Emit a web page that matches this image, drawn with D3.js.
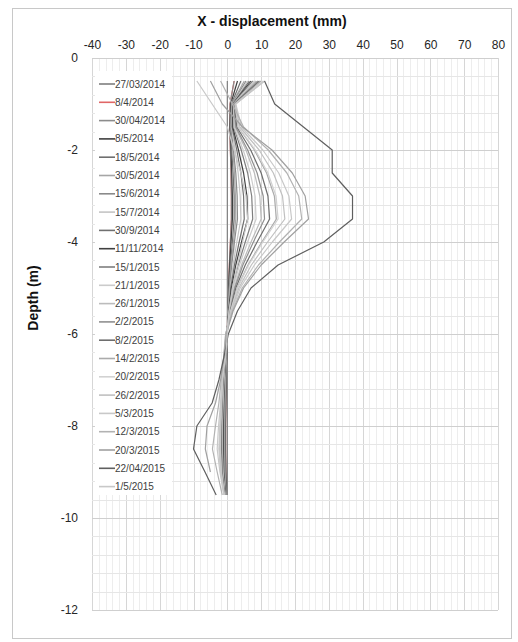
<!DOCTYPE html>
<html>
<head>
<meta charset="utf-8">
<script src="https://cdn.jsdelivr.net/npm/d3@7"></script>
<style>
  body { margin: 0; background: #fff; }
  svg { display: block; font-family: "Liberation Sans", Arial, sans-serif; }
  .tick text { fill: #262626; font-size: 12px; }
  .title { font-weight: bold; font-size: 14px; fill: #111; }
  .legend-label { font-size: 10px; fill: #404040; }
</style>
</head>
<body>
<svg id="chart" width="518" height="642" viewBox="0 0 518 642"></svg>
<script>
// reading dates (legend order)
const dates = ["27/03/2014", "8/4/2014", "30/04/2014", "8/5/2014", "18/5/2014", "30/5/2014",
    "15/6/2014", "15/7/2014", "30/9/2014", "11/11/2014", "15/1/2015", "21/1/2015", "26/1/2015",
    "2/2/2015", "8/2/2015", "14/2/2015", "20/2/2015", "26/2/2015", "5/3/2015", "12/3/2015",
    "20/3/2015", "22/04/2015", "1/5/2015"];

// depth of each reading (m)
const depths = [-0.5, -1, -1.5, -2, -2.5, -3, -3.5, -4, -4.5, -5, -5.5, -6, -6.5, -7, -7.5, -8, -8.5, -9, -9.5];

// displacement (mm) per date, one value per depth
const readings = [
    [0, 0, 0, 0, 0, 0, 0, 0, 0, 0, 0, 0, 0, 0, 0, 0, 0, 0, 0],
    [2, 0.8, 0.7, 0.9, 1.1, 1.2, 1.2, 0.9, 0.6, 0.3, 0.1, 0, -0.2, -0.3, -0.4, -0.5, -0.5, -0.4, -0.2],
    [2, 0.8, 0.7, 0.9, 1.1, 1.2, 1.2, 0.9, 0.6, 0.3, 0.1, 0, -0.2, -0.3, -0.4, -0.5, -0.5, -0.4, -0.2],
    [3, 1, 0.8, 1.1, 1.3, 1.5, 1.5, 1.1, 0.7, 0.4, 0.2, 0, -0.2, -0.4, -0.5, -0.6, -0.6, -0.5, -0.3],
    [4, 1.2, 0.9, 1.3, 1.7, 2, 2, 1.5, 0.9, 0.5, 0.2, 0, -0.3, -0.5, -0.6, -0.7, -0.7, -0.6, -0.3],
    [5, 1.3, 1, 1.6, 2.1, 2.4, 2.5, 1.8, 1.1, 0.6, 0.2, 0, -0.3, -0.5, -0.7, -0.8, -0.8, -0.7, -0.4],
    [5.5, 1.4, 1.1, 1.8, 2.5, 2.9, 3, 2.1, 1.3, 0.7, 0.2, 0, -0.4, -0.6, -0.8, -0.9, -0.9, -0.8, -0.4],
    [6, 1.5, 1.2, 2.3, 3.2, 3.8, 4, 2.8, 1.7, 0.8, 0.3, 0, -0.4, -0.7, -0.9, -1, -1, -0.9, -0.5],
    [6.5, 1.6, 1.4, 2.8, 4, 4.8, 5, 3.5, 2.1, 1, 0.4, -0.1, -0.5, -0.8, -1, -1.1, -1.1, -1, -0.5],
    [7, 1.6, 1.6, 3.3, 4.8, 5.8, 6, 4.2, 2.5, 1.2, 0.4, -0.1, -0.5, -0.9, -1.1, -1.2, -1.2, -1.1, -0.6],
    [7.5, 1.7, 1.9, 4.1, 6, 7.2, 7.5, 5.3, 3.2, 1.5, 0.5, -0.2, -0.6, -1, -1.2, -1.4, -1.4, -1.2, -0.6],
    [8, 1.8, 2, 4.7, 6.8, 8.2, 8.5, 6, 3.6, 1.7, 0.6, -0.2, -0.6, -1, -1.3, -1.5, -1.5, -1.3, -0.7],
    [8.5, 1.9, 2.3, 5.5, 8, 9.6, 10, 7, 4.2, 2, 0.7, -0.2, -0.7, -1.1, -1.4, -1.6, -1.6, -1.4, -0.7],
    [9, 2, 2.5, 6, 8.8, 10.6, 11, 7.7, 4.6, 2.2, 0.8, -0.3, -0.7, -1.2, -1.5, -1.7, -1.7, -1.5, -0.8],
    [9.5, 2, 2.8, 6.9, 10, 12, 12.5, 8.8, 5.3, 2.5, 0.9, -0.3, -0.8, -1.3, -1.6, -1.8, -1.8, -1.6, -0.8],
    [10, 2.2, 3.2, 8, 11.6, 13.9, 14.5, 10.2, 6.1, 2.9, 1, -0.4, -0.9, -1.4, -1.7, -1.9, -2, -1.7, -0.9],
    [10.5, 2.3, 3.3, 8.3, 12, 14.4, 15, 10.5, 6.3, 3, 1, -0.4, -0.9, -1.4, -1.7, -2, -2.1, -1.8, -0.9],
    [11, 2.4, 3.7, 9.4, 13.6, 16.3, 17, 11.9, 7.1, 3.4, 1.2, -0.4, -1, -1.5, -1.8, -2.1, -2.3, -1.9, -1],
    [11, 2.5, 4.2, 10.5, 15.2, 18.2, 19, 13.3, 8, 3.8, 1.3, -0.5, -1, -1.6, -1.9, -2.2, -2.5, -2, -1],
    [-2, 1.5, 4.8, 12.1, 17.6, 21.1, 22, 15.4, 9.2, 4.4, 1.5, -0.5, -1.1, -1.8, -2.5, -3.5, -4.4, -3, -1.5],
    [-5, -1.5, 4.5, 13.2, 19.2, 23, 24, 16.8, 10, 4.8, 1.7, -0.3, -1, -2, -3.5, -6, -6.5, -5, null],
    [11, 14, 22.5, 31, 31, 37, 37, 28.5, 15, 7, 3, 0.3, -1, -2.5, -4.5, -9, -10, -6.6, -3.3],
    [-9, -4.5, 0, 2, 4, 5.5, 6, 4.5, 3, 1.5, 0.5, 0, -0.5, -1.5, -2, -2.6, -3, -2.2, -1]
];

const xTicks = [-40, -30, -20, -10, 0, 10, 20, 30, 40, 50, 60, 70, 80];
const yTicks = [0, -2, -4, -6, -8, -10, -12];

const lineColors = ["#7f7f7f", "#e06666", "#8c8c8c", "#3f3f3f", "#6f6f6f", "#a6a6a6", "#8a8a8a",
    "#c4c4c4", "#707070", "#404040", "#7f7f7f", "#cbcbcb", "#bcbcbc", "#909090", "#6e6e6e",
    "#ababab", "#d2d2d2", "#c0c0c0", "#c8c8c8", "#b2b2b2", "#a0a0a0", "#5f5f5f", "#c8c8c8"];

const svg = d3.select("#chart");

// outer frame
svg.append("rect")
    .attr("x", 12.5).attr("y", 8.5)
    .attr("width", 499).attr("height", 630)
    .attr("fill", "#fff")
    .attr("stroke", "#c8c8c8");

const x = d3.scaleLinear().domain([-40, 80]).range([92, 498]);
const y = d3.scaleLinear().domain([0, -12]).range([58, 610]);

// grid lines
const grid = svg.append("g");
grid.selectAll(".vminor")
    .data(d3.range(-40, 81, 2))
    .enter().append("line")
    .attr("x1", d => Math.round(x(d)) + 0.5).attr("x2", d => Math.round(x(d)) + 0.5)
    .attr("y1", y(0)).attr("y2", y(-12))
    .attr("stroke", d => d % 10 === 0 ? "#d6d6d6" : "#ededed");
grid.selectAll(".hminor")
    .data(d3.range(0, 31).map(i => -i * 0.4))
    .enter().append("line")
    .attr("x1", x(-40)).attr("x2", x(80))
    .attr("y1", d => Math.round(y(d)) + 0.5).attr("y2", d => Math.round(y(d)) + 0.5)
    .attr("stroke", (d, i) => i % 5 === 0 ? "#cfcfcf" : "#e6e6e6");

// axes
const xAxis = svg.append("g")
    .attr("transform", "translate(0," + 49 + ")")
    .call(d3.axisTop(x).tickValues(xTicks).tickFormat(String).tickSize(0).tickPadding(0));
xAxis.select(".domain").remove();

const yAxis = svg.append("g")
    .attr("transform", "translate(" + 78 + ",0)")
    .call(d3.axisLeft(y).tickValues(yTicks).tickFormat(String).tickSize(0).tickPadding(0));
yAxis.select(".domain").remove();

svg.append("text")
    .attr("class", "title")
    .attr("x", 272).attr("y", 26)
    .attr("text-anchor", "middle")
    .text("X - displacement (mm)");

svg.append("text")
    .attr("class", "title")
    .attr("transform", "translate(38,298) rotate(-90)")
    .attr("text-anchor", "middle")
    .text("Depth  (m)");

// profiles (the red one goes underneath the rest, as in the original)
const line = d3.line()
    .defined(d => d[0] != null)
    .x(d => x(d[0]))
    .y(d => y(d[1]));

const drawOrder = [1].concat(d3.range(readings.length).filter(i => i !== 1));

svg.append("g")
    .selectAll("path")
    .data(drawOrder)
    .enter()
    .append("path")
    .attr("d", i => line(readings[i].map((v, k) => [v, depths[k]])))
    .attr("fill", "none")
    .attr("stroke", i => lineColors[i])
    .attr("stroke-width", 1.2)
    .attr("stroke-linejoin", "round");

// legend
const legend = svg.append("g");
legend.append("rect")
    .attr("x", 95).attr("y", 71)
    .attr("width", 77).attr("height", 424)
    .attr("fill", "#fff");

const entries = legend.selectAll(".entry")
    .data(dates)
    .enter()
    .append("g")
    .attr("transform", (d, i) => "translate(0," + (84 + i * 18.3) + ")");
entries.append("line")
    .attr("x1", 99).attr("x2", 115)
    .attr("stroke", (d, i) => lineColors[i])
    .attr("stroke-width", 1.6);
entries.append("text")
    .attr("class", "legend-label")
    .attr("x", 115).attr("dy", "0.35em")
    .text(d => d);
</script>
</body>
</html>
